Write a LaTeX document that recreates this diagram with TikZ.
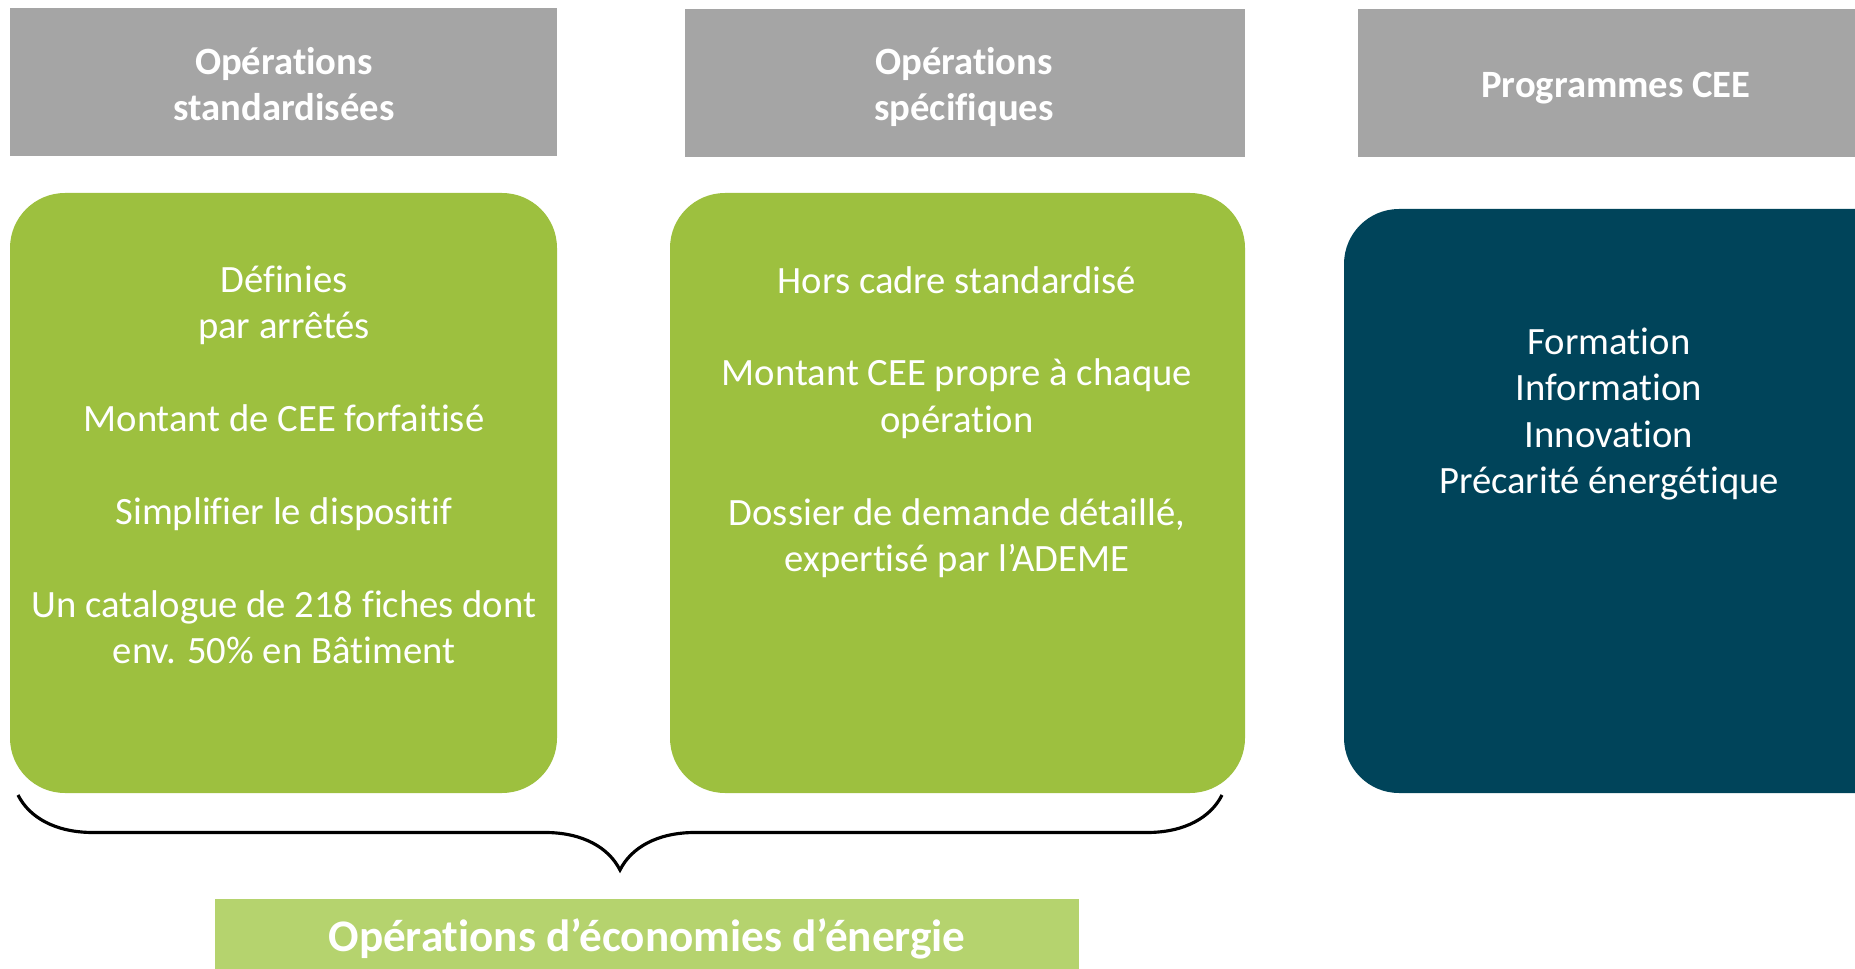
\documentclass[tikz,border=0pt]{standalone}
\usepackage{fontspec}
\setmainfont{Carlito}[Ligatures=NoCommon]
\usetikzlibrary{fit,decorations.pathreplacing}

\definecolor{hdrgray}{HTML}{A5A5A5}
\definecolor{leafgreen}{HTML}{9DC03F}
\definecolor{deepteal}{HTML}{00445A}
\definecolor{palegreen}{HTML}{B5D36E}

\tikzset{
  hdr/.style={fill=hdrgray,inner sep=0pt},
  greenbox/.style={fill=leafgreen,rounded corners=1.1cm,inner sep=0pt},
  darkbox/.style={fill=deepteal,rounded corners=1.1cm,inner sep=0pt},
  boxtext/.style={text=white,align=center,font=\fontsize{22}{26.4}\selectfont},
  hdrtext/.style={boxtext,font=\fontsize{22}{26.4}\selectfont\bfseries}
}

\begin{document}
\begin{tikzpicture}[x=0.02cm,y=-0.02cm]
  \useasboundingbox (0,0) rectangle (1855,969);

  % headers
  \node[hdr,fit={(10,8) (557,156)}] (hdrStd) {};
  \node[hdr,fit={(685,9) (1245,157)}] (hdrSpec) {};
  \node[hdr,fit={(1358,9) (1900,157)}] (hdrProg) {};
  \node[hdrtext] (hdrStdTxt) at (284,84) {Opérations\\standardisées};
  \node[hdrtext] (hdrSpecTxt) at (964,87) {Opérations\\spécifiques};
  \node[hdrtext] (hdrProgTxt) at (1616,88) {Programmes CEE};

  % boxes
  \node[greenbox,fit={(10,193) (557,793)}] (boxStd) {};
  \node[greenbox,fit={(670,193) (1245,793)}] (boxSpec) {};
  \node[darkbox,fit={(1344,209) (1920,793)}] (boxProg) {};

  \node[boxtext] (txtStd) at (284,465) {Définies\\par arrêtés\\[26.4pt]
    Montant de CEE forfaitisé\\[26.4pt]
    Simplifier le dispositif\\[26.4pt]
    Un catalogue de 218 fiches dont\\env. 50\% en Bâtiment};
  \node[boxtext] (txtSpec) at (957,422) {Hors cadre standardisé\\[26.4pt]
    Montant CEE propre à chaque\\opération\\[26.4pt]
    Dossier de demande détaillé,\\expertisé par l’ADEME};
  \node[boxtext] (txtProg) at (1609,414) {Formation\\Information\\Innovation\\Précarité énergétique};

  % brace
  \coordinate (braceL) at (18,795);
  \coordinate (braceR) at (1222,795);
  \draw[line width=1.8pt,decorate,decoration={brace,mirror,amplitude=1.5cm}] (braceL) -- (braceR);

  % bottom label
  \node[fill=palegreen,fit={(215,899) (1079,975)},inner sep=0pt] (lblEco) {};
  \node[text=white,font=\fontsize{25.7}{31}\selectfont\bfseries] (lblEcoTxt) at (647,939) {Opérations d’économies d’énergie};
\end{tikzpicture}
\end{document}
